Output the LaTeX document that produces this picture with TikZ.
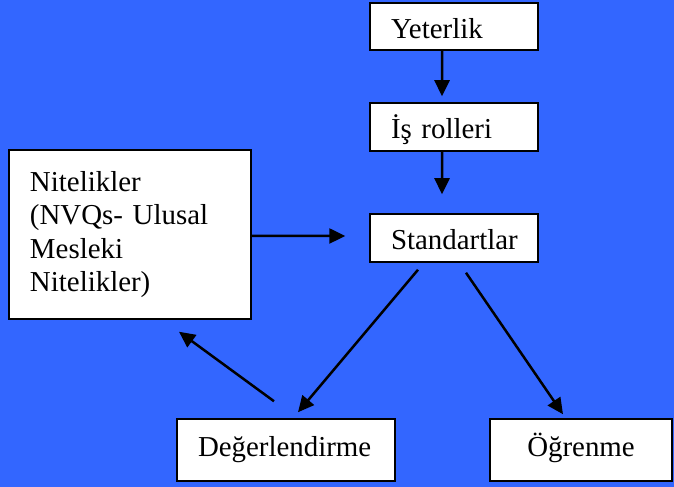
\documentclass[tikz,border=0pt]{standalone}
\usepackage{fontspec}
\setmainfont{Liberation Serif}
\usetikzlibrary{arrows.meta,positioning}
\definecolor{zemin}{RGB}{51,102,255}
\hyphenpenalty=10000
\tikzset{
  kutu/.style={draw=black,fill=white,line width=1.5bp,inner xsep=21bp,inner ysep=0bp,
    font=\fontsize{29}{33.7}\selectfont,align=left},
  ok/.style={line width=2.5bp,-{Triangle[length=16bp,width=15bp]}}
}

\begin{document}
\begin{tikzpicture}[x=1bp,y=1bp]
  \fill[zemin] (0,0) rectangle (674,487);
  \useasboundingbox (0,0) rectangle (674,487);
  \node[kutu,text width=126bp,minimum height=47bp,text height=24bp,text depth=0bp] (yeterlik) at (454,460.5) {Yeterlik};
  \node[kutu,text width=126bp,minimum height=48bp,text height=24bp,text depth=0bp] (roller) at (454,360) {İş rolleri};
  \node[kutu,text width=126bp,minimum height=48bp,text height=24bp,text depth=0bp] (standart) at (454,249) {Standartlar};
  \node[kutu,text width=200bp,minimum height=169bp] (nitelik) at (130,252.5)
    {Nitelikler\\(NVQs- Ulusal\\Mesleki\\Nitelikler)};
  \node[kutu,text width=176bp,minimum height=62bp,text height=14bp,text depth=0bp] (degerlendirme) at (286,37) {Değerlendirme};
  \node[kutu,text width=140bp,minimum height=62bp,text height=14bp,text depth=0bp,align=center] (ogrenme) at (581,37) {Öğrenme};
% oklar
  \draw[ok] ([xshift=-12]yeterlik.south) -- ([shift={(-12,6)}]roller.north);
  \draw[ok] ([xshift=-12]roller.south) -- ([shift={(-12,19)}]standart.north);
  \draw[ok] ([yshift=-1.5]nitelik.east) -- ([shift={(-24,2)}]standart.west);
  \draw[ok] ([shift={(-36,-7)}]standart.south) -- ([shift={(12,6)}]degerlendirme.north);
  \draw[ok] ([shift={(12,-10)}]standart.south) -- ([shift={(-18,4)}]ogrenme.north);
  \draw[ok] ([shift={(-12,17)}]degerlendirme.north) -- ([shift={(49,-12)}]nitelik.south);
\end{tikzpicture}
\end{document}
